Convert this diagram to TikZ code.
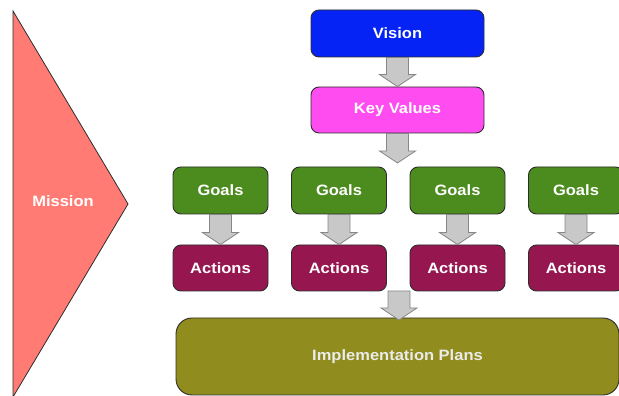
\documentclass[tikz,border=0pt]{standalone}
\usepackage{fontspec}
\setmainfont{Liberation Sans}[FakeStretch=1.1]
\usetikzlibrary{calc}
\definecolor{cvision}{RGB}{5,35,245}
\definecolor{ckey}{RGB}{255,76,240}
\definecolor{cgoal}{RGB}{76,140,30}
\definecolor{cact}{RGB}{150,23,79}
\definecolor{cimpl}{RGB}{145,140,30}
\definecolor{cmission}{RGB}{255,123,116}
\definecolor{carrfill}{RGB}{200,200,200}
\definecolor{carrline}{RGB}{135,135,135}
\definecolor{cline}{RGB}{45,45,45}
\tikzset{
  box/.style={draw=cline, line width=0.9pt, rounded corners=8pt, text=white,
    font=\fontsize{15}{17}\selectfont\bfseries, inner sep=0pt},
  blockarr/.style={fill=carrfill, draw=carrline, line width=0.8pt, line join=miter}
}
\newcommand{\blockarrow}[2]{%
  \path[blockarr] let \p1=(#1), \p2=(#2) in
    (\x1-11pt,\y1) -- (\x1-11pt,\y2+12pt) -- (\x1-18pt,\y2+12pt) -- (\x1,\y2)
    -- (\x1+18pt,\y2+12pt) -- (\x1+11pt,\y2+12pt) -- (\x1+11pt,\y1) -- cycle;}
\begin{document}
\begin{tikzpicture}[x=1pt,y=1pt]
\useasboundingbox (0,0) rectangle (619,396);
% Mission triangle
\draw[fill=cmission, draw=cline, line width=0.8pt] (13,385) coordinate (mt) -- (128,192) coordinate (ma) -- (13,-1) coordinate (mb) -- cycle;
\node[text=white, font=\fontsize{15}{17}\selectfont\bfseries] (mission) at (63,195) {Mission};
% top boxes
\node[box, fill=cvision, minimum width=173pt, minimum height=47pt] (vision) at (397.5,362.5) {Vision};
\node[box, fill=ckey, minimum width=173pt, minimum height=46pt] (key) at (397.5,286) {Key Values};
% goals and actions
\foreach \i/\x in {1/220.5,2/339,3/457.5,4/576}{
  \node[box, fill=cgoal, minimum width=95pt, minimum height=47pt] (g\i) at (\x,205.5) {Goals};
  \node[box, fill=cact, minimum width=95pt, minimum height=46pt] (a\i) at (\x,128) {Actions};
}
% implementation
\node[box, fill=cimpl, rounded corners=16pt, minimum width=443pt, minimum height=77pt, text=white!92!black] (impl) at (397.5,39.5) {Implementation Plans};
% arrows
\coordinate (t2) at (397,233);
\coordinate (s3) at (399,105);
\coordinate (t3) at (399,76);
\blockarrow{vision.south}{key.north}
\blockarrow{key.south}{t2}
\foreach \i in {1,2,3,4}{\blockarrow{g\i.south}{a\i.north}}
\blockarrow{s3}{t3}
\end{tikzpicture}
\end{document}
